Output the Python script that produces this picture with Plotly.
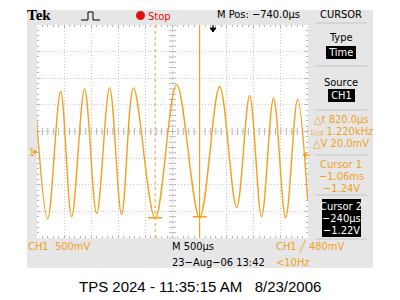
import numpy as np
import plotly.graph_objects as go

# ---- data ----
# waveform extrema: time in microseconds (relative to trigger), volts
t_us = [-3247, -3044, -2804, -2601, -2362, -2140, -1900, -1679, -1458,
        -1060, -664, -240, 129, 443, 683, 904, 1125, 1347, 1568, 1753]
volts = [0.60, -1.26, 1.13, -1.22, 1.18, -1.16, 1.20, -1.18, 1.20,
         -1.25, 1.26, -1.24, 1.22, -1.05, 1.05, -1.22, 1.01, -1.24, 0.98, -0.90]

cursor_t = [-1060, -240]
cursor_v = [-1.24, -1.22]

x_range = [-3240, 1760]   # 10 div x 500 us
y_range = [-1.62, 2.38]   # 8 div x 500 mV

ORANGE = "#F2A01E"
GRID = "#B4B4B4"
FONT = "Liberation Sans Narrow, DejaVu Sans Condensed, Liberation Sans, sans-serif"
NB = "\u00a0"

L, R, T, B = 37, 308, 25, 238


def px(x):
    return (x - L) / (R - L)


def py(y):
    return (B - y) / (B - T)


fig = go.Figure()

# graticule centre-line ticks
cx = (x_range[0] + x_range[1]) / 2
cy = (y_range[0] + y_range[1]) / 2
xt = np.arange(x_range[0], x_range[1] + 1, 100)
yt = np.arange(y_range[0], y_range[1] + 0.001, 0.1)
fig.add_trace(go.Scatter(x=xt, y=[cy] * len(xt), mode="markers", hoverinfo="skip",
                         marker=dict(symbol="line-ns", size=5, line=dict(color=GRID, width=1))))
fig.add_trace(go.Scatter(x=[cx] * len(yt), y=yt, mode="markers", hoverinfo="skip",
                         marker=dict(symbol="line-ew", size=5, line=dict(color=GRID, width=1))))

# waveform
fig.add_trace(go.Scatter(x=t_us, y=volts, mode="lines",
                         line=dict(color=ORANGE, width=1.4, shape="spline", smoothing=1.0),
                         hoverinfo="skip"))

# background panel + white screen
fig.add_shape(type="rect", xref="paper", yref="paper", x0=px(27), x1=px(373),
              y0=py(268), y1=py(10), fillcolor="#E6E6E6", line=dict(width=0), layer="below")
fig.add_shape(type="rect", xref="paper", yref="paper", x0=0, x1=1, y0=0, y1=1,
              fillcolor="white", line=dict(width=0), layer="below")

# cursors
fig.add_shape(type="line", xref="x", yref="paper", x0=cursor_t[0], x1=cursor_t[0], y0=0, y1=1,
              line=dict(color=ORANGE, width=1, dash="dot"))
fig.add_shape(type="line", xref="x", yref="paper", x0=cursor_t[1], x1=cursor_t[1], y0=0, y1=1,
              line=dict(color=ORANGE, width=1.2))
for ct, cv in zip(cursor_t, cursor_v):
    fig.add_shape(type="line", xref="x", yref="y", x0=ct - 130, x1=ct + 130, y0=cv, y1=cv,
                  line=dict(color=ORANGE, width=1.5))


def text(x, y, s, color="black", size=11, xanchor="left", family=FONT, bg=None):
    fig.add_annotation(x=px(x), y=py(y), xref="paper", yref="paper", text=s,
                       showarrow=False, xanchor=xanchor, yanchor="middle",
                       font=dict(family=family, size=size, color=color),
                       bgcolor=bg, borderpad=0, borderwidth=0)


def path(d, color, width=1, fill=None):
    fig.add_shape(type="path", xref="paper", yref="paper", path=d,
                  line=dict(color=color, width=width), fillcolor=fill)


def P(pts, close=False):
    s = "M " + " L ".join(f"{px(a):.5f},{py(b):.5f}" for a, b in pts)
    return s + (" Z" if close else "")


# top bar
text(27, 15, "<b>Tek</b>", size=15, family="Liberation Serif, DejaVu Serif, serif")
path(P([(81, 20), (88, 20), (88, 12), (93, 12), (93, 20), (100, 20)]), "black", 1)
fig.add_shape(type="circle", xref="paper", yref="paper", x0=px(136), x1=px(145),
              y0=py(20), y1=py(11), fillcolor="#E01010", line=dict(width=0))
text(148, 16, "Stop", color="#E01010", size=11)
text(258, 15, "M Pos: \u2212740.0\u00b5s", size=11, xanchor="center")
text(341, 15, "CURSOR", size=11, xanchor="center")

# separators in right menu
for yy in [23, 66, 110, 155, 195, 239]:
    path(P([(315, yy), (367, yy)]), "#C4C4C4", 1)

# menu
text(341, 37, "Type", xanchor="center")
text(341, 52, NB + "Time" + NB, color="white", xanchor="center", bg="black")
text(341, 82, "Source", xanchor="center")
text(341, 95, NB + "CH1" + NB, color="white", xanchor="center", bg="black")
text(341, 119, "\u25b3t 820.0\u00b5s", color=ORANGE, xanchor="center")
text(341, 131, "<span style='font-size:7px'>1/\u25b3t</span> 1.220kHz", color=ORANGE,
     xanchor="center")
text(341, 143, "\u25b3V 20.0mV", color=ORANGE, xanchor="center")
text(341, 164, "Cursor 1", color=ORANGE, xanchor="center")
text(341, 176, "\u22121.06ms", color=ORANGE, xanchor="center")
text(341, 188, "\u22121.24V", color=ORANGE, xanchor="center")
fig.add_shape(type="rect", xref="paper", yref="paper", x0=px(322), x1=px(361),
              y0=py(237), y1=py(199), fillcolor="black", line=dict(width=0))
text(341, 206, "Cursor 2", color="white", xanchor="center")
text(341, 218, "\u2212240\u00b5s", color="white", xanchor="center")
text(341, 230, "\u22121.22V", color="white", xanchor="center")

# markers: ground, trigger level, trigger position
text(29, 152, "1", color=ORANGE, size=10)
path(P([(34, 150), (37, 152), (34, 154)], close=True), ORANGE, 1, ORANGE)
path(P([(303, 155), (310, 155)]), ORANGE, 1.2)
path(P([(303, 155), (306, 153), (306, 157)], close=True), ORANGE, 1, ORANGE)
path(P([(213, 25), (213, 31)]), "black", 1.2)
path(P([(210, 28), (216, 28), (213, 32)], close=True), "black", 1, "black")

# bottom status
text(28, 246, "CH1" + NB + NB + "500mV", color=ORANGE)
text(172, 246, "M 500\u00b5s")
text(172, 262, "23\u2212Aug\u221206 13:42")
text(276, 246, "CH1 \u2571 480mV", color=ORANGE)
text(276, 262, "&lt;10Hz", color=ORANGE)

# footer
text(200, 286, "TPS 2024 - 11:35:15 AM" + NB * 3 + "8/23/2006", size=15, xanchor="center",
     family="Liberation Sans, Arial, sans-serif")

axis_common = dict(showticklabels=False, zeroline=False, showline=False, mirror="allticks",
                   ticks="inside", ticklen=3, tickcolor=GRID, showgrid=True,
                   gridcolor="#CACACA", griddash="1px,2px", gridwidth=1, fixedrange=True)
fig.update_xaxes(range=x_range, tick0=x_range[0], dtick=500,
                 minor=dict(dtick=100, tick0=x_range[0], ticks="inside", ticklen=2,
                            tickcolor=GRID, showgrid=False), **axis_common)
fig.update_yaxes(range=y_range, tick0=y_range[0], dtick=0.5,
                 minor=dict(dtick=0.1, tick0=y_range[0], ticks="inside", ticklen=2,
                            tickcolor=GRID, showgrid=False), **axis_common)

fig.update_layout(width=400, height=300, margin=dict(l=L, r=400 - R, t=T, b=300 - B),
                  paper_bgcolor="white", plot_bgcolor="white", showlegend=False)

fig.write_html("out.html")
